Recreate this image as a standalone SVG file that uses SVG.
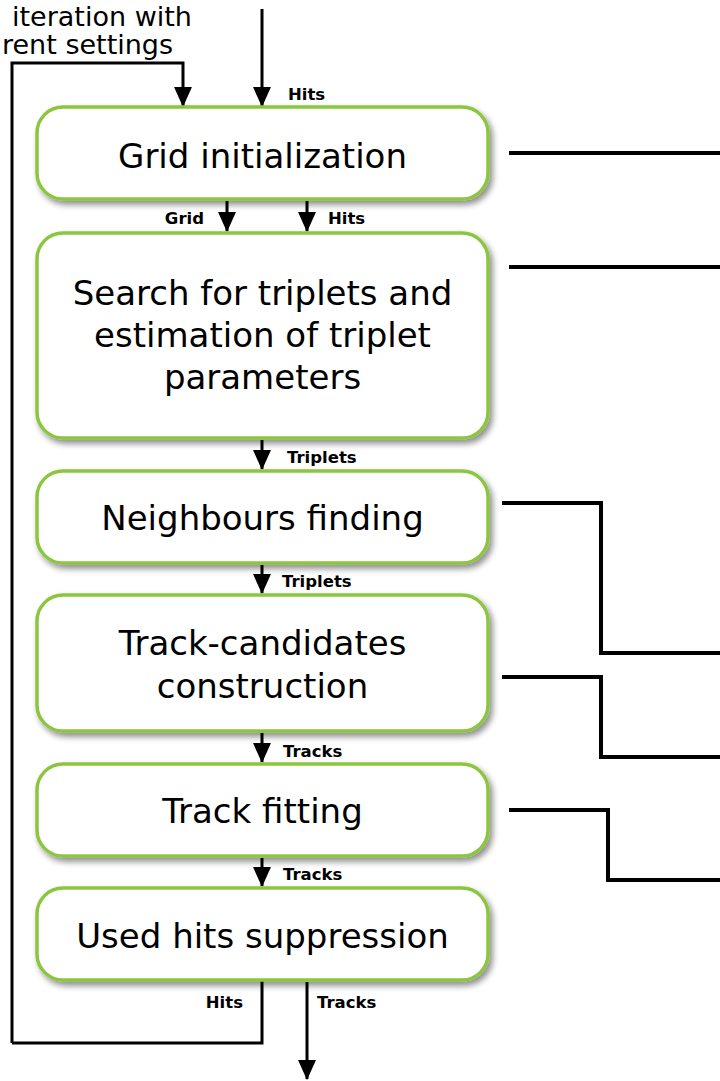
<svg xmlns="http://www.w3.org/2000/svg" width="720" height="1081" viewBox="0 0 720 1081">
<style>
.box{fill:#ffffff;stroke:#8cc63f;stroke-width:3.5;filter:url(#sh)}
.t{font-family:"DejaVu Sans",Verdana,sans-serif;font-size:34px;fill:#000;text-anchor:middle}
.lbl{font-family:"DejaVu Sans",Verdana,sans-serif;font-size:16.5px;font-weight:bold;fill:#000}
.top{font-family:"DejaVu Sans",Verdana,sans-serif;font-size:27px;fill:#000}
.ar{fill:none;stroke:#000;stroke-width:3;marker-end:url(#ah)}
.ln{fill:none;stroke:#000;stroke-width:3}
.rl{fill:none;stroke:#000;stroke-width:4}
</style>
<defs>
<filter id="sh" x="-10%" y="-10%" width="125%" height="135%">
<feGaussianBlur in="SourceAlpha" stdDeviation="3"/>
<feOffset dx="3" dy="4" result="b"/>
<feComponentTransfer><feFuncA type="linear" slope="0.45"/></feComponentTransfer>
<feMerge><feMergeNode/><feMergeNode in="SourceGraphic"/></feMerge>
</filter>
<marker id="ah" markerUnits="userSpaceOnUse" markerWidth="20" markerHeight="18" viewBox="0 0 19 17" refX="18" refY="8.5" orient="auto">
<path d="M0,0 L19,8.5 L0,17 Z" fill="#000"/>
</marker>
</defs>
<text class="top" x="12" y="26">iteration with</text>
<text class="top" x="2" y="54">rent settings</text>
<g id="connectors">
<path class="ar" d="M262,9 V106"/>
<path class="ar" d="M12,1043 V63 H183 V106"/>
<path class="ln" d="M262,980 V1043 H12"/>
<path class="ar" d="M227,201 V231"/>
<path class="ar" d="M307,201 V231"/>
<path class="ar" d="M262,440 V469"/>
<path class="ar" d="M262,565 V593"/>
<path class="ar" d="M262,733 V762"/>
<path class="ar" d="M262,858 V886"/>
<path class="ar" d="M307,982 V1079"/>
<path class="rl" d="M509,153 H720"/>
<path class="rl" d="M509,267 H720"/>
<path class="rl" d="M502,503 H601 V653 H720"/>
<path class="rl" d="M502,677 H601 V757 H720"/>
<path class="rl" d="M509,810 H608 V880 H720"/>
<text class="lbl" x="288" y="100">Hits</text>
<text class="lbl" x="204" y="224" text-anchor="end">Grid</text>
<text class="lbl" x="328" y="224">Hits</text>
<text class="lbl" x="287" y="463">Triplets</text>
<text class="lbl" x="282" y="587">Triplets</text>
<text class="lbl" x="283" y="757">Tracks</text>
<text class="lbl" x="283" y="880">Tracks</text>
<text class="lbl" x="243" y="1008" text-anchor="end">Hits</text>
<text class="lbl" x="317" y="1008">Tracks</text>
</g>
<g id="n1"><rect class="box" x="37" y="107" width="451" height="92" rx="26"/><text class="t" x="262.5" y="168">Grid initialization</text></g>
<g id="n2"><rect class="box" x="37" y="233" width="451" height="205" rx="26"/><text class="t" x="262.5" y="305">Search for triplets and</text><text class="t" x="262.5" y="347">estimation of triplet</text><text class="t" x="262.5" y="389">parameters</text></g>
<g id="n3"><rect class="box" x="37" y="471" width="451" height="92" rx="26"/><text class="t" x="262.5" y="530">Neighbours finding</text></g>
<g id="n4"><rect class="box" x="37" y="595" width="451" height="136" rx="26"/><text class="t" x="262.5" y="655">Track-candidates</text><text class="t" x="262.5" y="698">construction</text></g>
<g id="n5"><rect class="box" x="37" y="764" width="451" height="92" rx="26"/><text class="t" x="262.5" y="823">Track fitting</text></g>
<g id="n6"><rect class="box" x="37" y="888" width="451" height="92" rx="26"/><text class="t" x="262.5" y="948">Used hits suppression</text></g>
</svg>
